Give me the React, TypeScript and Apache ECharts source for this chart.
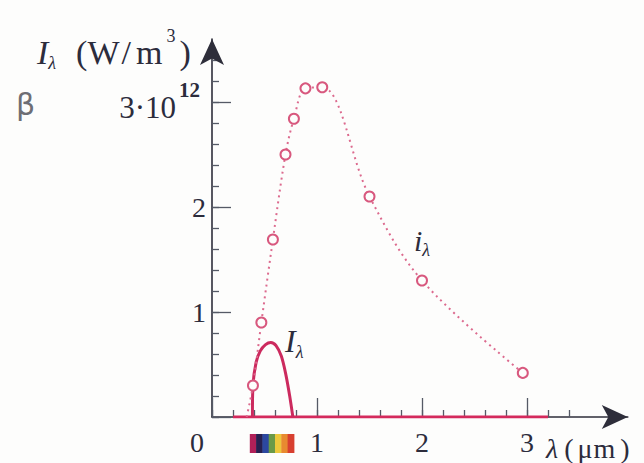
import React, { useEffect, useRef } from "react";
import * as echarts from "echarts";

// i_lambda (dotted, measured points) — values in units of 10^12 W/m^3, wavelength in um
const iLambdaX = [0.33, 0.39, 0.47, 0.58, 0.7, 0.78, 0.89, 1.05, 1.5, 2.0, 2.96];
const iLambdaY = [0, 0.3, 0.9, 1.69, 2.5, 2.84, 3.13, 3.14, 2.1, 1.3, 0.42];
const iLambdaMarked = [false, true, true, true, true, true, true, true, true, true, true];

// I_lambda (solid, visible part)
const bigIX = [0.385, 0.39, 0.42, 0.46, 0.51, 0.56, 0.61, 0.66, 0.7, 0.74, 0.77];
const bigIY = [0, 0.3, 0.52, 0.63, 0.69, 0.71, 0.68, 0.58, 0.42, 0.2, 0];
// I_lambda zero baseline along the axis
const baseX = [0.2, 3.2];
const baseY = [0, 0];

// visible spectrum strip under the axis
const spectrumStops = [0.36, 0.42, 0.48, 0.54, 0.6, 0.66, 0.72, 0.78];
const spectrumColors = ["#b02058", "#262050", "#2c48a0", "#6a9a48", "#ecc83c", "#e88a30", "#d84030"];

const xTickLabels = ["0", "1", "2", "3"];
const yTickLabels = ["", "1", "2", "3·10"];
const yTopExponent = "12";

const SERIF = "serif";
const TXT = "#2c2c3c";

export default function App() {
  const ref = useRef<HTMLDivElement>(null);
  useEffect(() => {
    if (!ref.current) return;
    const chart = echarts.init(ref.current, undefined, { renderer: "svg" });
    const unit = 105;
    const x0 = 212;
    const y0 = 417;
    const mainXMax = 3.96;
    const mainYMax = 3.6;
    const minorMax = 3.4;
    const majorMax = 3;

    const iData = iLambdaX.map((x, i) =>
      iLambdaMarked[i] ? [x, iLambdaY[i]] : { value: [x, iLambdaY[i]], symbol: "none" }
    );
    const bigData = bigIX.map((x, i) => [x, bigIY[i]]);
    const baseData = baseX.map((x, i) => [x, baseY[i]]);
    const specData = spectrumColors.map((c, i) => [spectrumStops[i], spectrumStops[i + 1], i]);

    const tickStyle = { color: "#555a66", width: 1.3 };
    const t = (size: number, extra: any = {}) => ({ fontFamily: SERIF, fontSize: size, fill: TXT, verticalAlign: "middle", ...extra });

    chart.setOption({
      animation: false,
      backgroundColor: "#fdfdfc",
      grid: [
        { left: x0, top: y0 - mainYMax * unit, width: mainXMax * unit, height: mainYMax * unit },
        { left: x0, top: y0 - minorMax * unit, width: minorMax * unit, height: minorMax * unit },
        { left: x0, top: y0 - majorMax * unit, width: majorMax * unit, height: majorMax * unit },
      ],
      xAxis: [
        {
          gridIndex: 0, type: "value", min: 0, max: mainXMax,
          axisLine: { show: true, lineStyle: { color: "#2e2e3a", width: 1.6 }, symbol: ["none", "arrow"], symbolSize: [18, 26] },
          axisTick: { show: false }, axisLabel: { show: false }, splitLine: { show: false },
        },
        {
          gridIndex: 1, type: "value", min: 0, max: minorMax, interval: 0.2,
          axisLine: { show: false },
          axisTick: { show: true, inside: true, length: 7, lineStyle: tickStyle },
          axisLabel: { show: false }, splitLine: { show: false },
        },
        {
          gridIndex: 2, type: "value", min: 0, max: majorMax, interval: 1,
          axisLine: { show: false },
          axisTick: { show: true, inside: true, length: 19, lineStyle: tickStyle },
          axisLabel: {
            show: true, margin: 11, fontFamily: SERIF, fontSize: 28, color: TXT,
            formatter: (v: number) => {
              const i = Math.round(v);
              if (Math.abs(v - i) > 1e-6) return "";
              const s = xTickLabels[i] ?? "";
              return i === 0 ? "{z|" + s + "}" : s;
            },
            rich: { z: { fontFamily: SERIF, fontSize: 28, color: TXT, padding: [0, 30, 0, 0] } },
          },
          splitLine: { show: false },
        },
      ],
      yAxis: [
        {
          gridIndex: 0, type: "value", min: 0, max: mainYMax,
          axisLine: { show: true, lineStyle: { color: "#2e2e3a", width: 1.6 }, symbol: ["none", "arrow"], symbolSize: [18, 26] },
          axisTick: { show: false }, axisLabel: { show: false }, splitLine: { show: false },
        },
        {
          gridIndex: 1, type: "value", min: 0, max: minorMax, interval: 0.2,
          axisLine: { show: false },
          axisTick: { show: true, inside: true, length: 7, lineStyle: tickStyle },
          axisLabel: { show: false }, splitLine: { show: false },
        },
        {
          gridIndex: 2, type: "value", min: 0, max: majorMax, interval: 1,
          axisLine: { show: false },
          axisTick: { show: true, inside: true, length: 19, lineStyle: tickStyle },
          axisLabel: {
            show: true, margin: 6, fontFamily: SERIF, fontSize: 28, color: TXT,
            formatter: (v: number) => {
              const i = Math.round(v);
              if (Math.abs(v - i) > 1e-6) return "";
              const s = yTickLabels[i] ?? "";
              if (i === majorMax) return "{a|" + s + "}{s|" + yTopExponent + "}{p|}";
              return s;
            },
            rich: {
              a: { fontFamily: SERIF, fontSize: 31, color: TXT, padding: [10, 0, 0, 0] },
              s: { fontFamily: SERIF, fontSize: 21, color: TXT, fontWeight: "bold", padding: [0, 0, 24, 3] },
              p: { width: 6 },
            },
          },
          splitLine: { show: false },
        },
      ],
      series: [
        {
          type: "line", xAxisIndex: 0, yAxisIndex: 0, data: baseData,
          symbol: "none", lineStyle: { color: "#d42a5c", width: 3 }, z: 3,
        },
        {
          type: "line", xAxisIndex: 0, yAxisIndex: 0, data: iData, smooth: 0.35,
          symbol: "circle", symbolSize: 10,
          itemStyle: { color: "#fdfdfc", borderColor: "#d8587e", borderWidth: 2 },
          lineStyle: { color: "#dc6a8e", width: 2, type: [2, 4] }, z: 4,
        },
        {
          type: "line", xAxisIndex: 0, yAxisIndex: 0, data: bigData, smooth: 0.3,
          symbol: "none", lineStyle: { color: "#cc2a5e", width: 3 }, z: 3,
        },
        {
          type: "custom", xAxisIndex: 0, yAxisIndex: 0, data: specData, clip: false, silent: true,
          encode: { x: [0, 1] },
          renderItem: (_p: any, api: any) => {
            const a = api.coord([api.value(0), 0]);
            const b = api.coord([api.value(1), 0]);
            return {
              type: "rect",
              shape: { x: a[0], y: a[1] + 17, width: b[0] - a[0] + 0.5, height: 19 },
              style: { fill: spectrumColors[api.value(2)] },
            };
          },
        },
      ],
      graphic: [
        {
          type: "text", x: 37, y: 52,
          style: {
            text: "{i|I}{sub|λ}{lp|(}{w|W}{sl|/}{m|m}{sup|3}{rp|)}",
            align: "left", verticalAlign: "middle", fill: TXT,
            rich: {
              i: t(34, { fontStyle: "italic" }),
              sub: t(18, { fontStyle: "italic", padding: [22, 0, 0, 0] }),
              lp: t(34, { padding: [0, 0, 0, 20] }),
              w: t(34),
              sl: t(34, { padding: [0, 0, 0, 2] }),
              m: t(34, { padding: [0, 0, 0, 5] }),
              sup: t(18, { padding: [0, 0, 32, 4] }),
              rp: t(34, { padding: [0, 0, 0, 4] }),
            },
          },
        },
        {
          type: "text", x: 16, y: 104,
          style: { text: "β", fontFamily: "DejaVu Sans", fontSize: 30, fill: "#6e6e74", align: "left", verticalAlign: "middle" },
        },
        {
          type: "text", x: 414, y: 240,
          style: {
            text: "{i|i}{sub|λ}", align: "left", verticalAlign: "middle",
            rich: {
              i: t(30, { fontStyle: "italic" }),
              sub: t(18, { fontStyle: "italic", padding: [20, 0, 0, 0] }),
            },
          },
        },
        {
          type: "text", x: 285, y: 341,
          style: {
            text: "{i|I}{sub|λ}", align: "left", verticalAlign: "middle",
            rich: {
              i: t(32, { fontStyle: "italic" }),
              sub: t(18, { fontStyle: "italic", padding: [22, 0, 0, 0] }),
            },
          },
        },
        {
          type: "text", x: 546, y: 448,
          style: {
            text: "{i|λ}{lp|(}{mu|μ}{m|m}{rp|)}", align: "left", verticalAlign: "middle",
            rich: {
              i: t(28, { fontStyle: "italic" }),
              lp: t(28, { padding: [0, 0, 0, 6] }),
              mu: t(28, { padding: [0, 0, 0, 4] }),
              m: t(28, { padding: [0, 0, 0, 1] }),
              rp: t(28, { padding: [0, 0, 0, 5] }),
            },
          },
        },
      ],
    });
    return () => chart.dispose();
  }, []);
  return (
    <div
      ref={ref}
      style={{ position: "fixed", left: 0, top: 0, width: 644, height: 463 }}
    />
  );
}
